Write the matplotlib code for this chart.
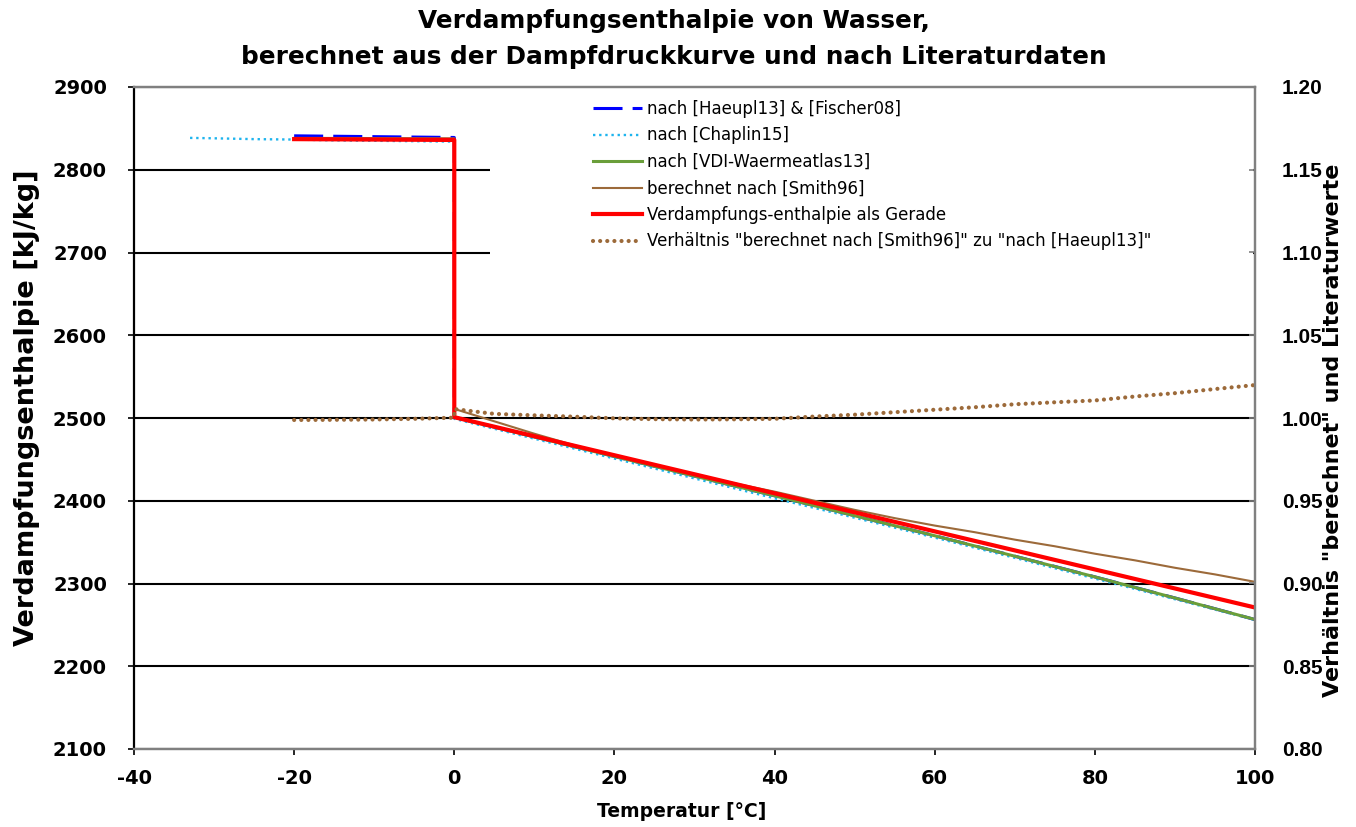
import matplotlib
matplotlib.use("Agg")
import matplotlib.pyplot as plt
from matplotlib.patches import Rectangle

plt.rcParams['font.family'] = ['DejaVu Sans']

# ---------------- data ----------------
# nach [Haeupl13] & [Fischer08]
T_haeupl = [-20, -15, -10, -5, 0, 0, 5, 10, 15, 20, 25, 30, 35, 40, 45, 50,
            55, 60, 65, 70, 75, 80, 85, 90, 95, 100]
H_haeupl = [2841, 2840.5, 2840, 2839.5, 2839, 2500.9, 2489.1, 2477.2, 2465.4,
            2453.5, 2441.7, 2429.8, 2417.9, 2406.0, 2394.0, 2381.9, 2369.8,
            2357.7, 2345.4, 2333.0, 2320.6, 2308.0, 2295.3, 2282.5, 2269.5, 2256.4]

# nach [Chaplin15]
T_chaplin = [-33, -30, -25, -20, -15, -10, -5, 0, 0, 10, 20, 30, 40, 50, 60,
             70, 80, 90, 100]
H_chaplin = [2838.5, 2838, 2837, 2836.5, 2835.5, 2835, 2834.5, 2834, 2499,
             2475, 2451, 2427, 2403, 2379.5, 2355.5, 2331, 2306, 2281, 2256]

# nach [VDI-Waermeatlas13]
T_vdi = [0, 10, 20, 30, 40, 50, 60, 70, 80, 90, 100]
H_vdi = [2500.9, 2477.2, 2453.5, 2429.8, 2406.0, 2381.9, 2357.7, 2333.0,
         2308.0, 2282.5, 2256.5]

# berechnet nach [Smith96]
T_smith = [-20, -10, 0, 0, 5, 10, 15, 20, 25, 30, 35, 40, 45, 50, 55, 60,
           65, 70, 75, 80, 85, 90, 95, 100]
H_smith = [2838.5, 2838.3, 2838, 2511, 2496, 2481, 2467, 2455, 2443, 2432,
           2421, 2411, 2400, 2389, 2379, 2370, 2362, 2353, 2345, 2336, 2328,
           2319, 2311, 2302]

# Verdampfungs-enthalpie als Gerade
T_gerade = [-20, 0, 0, 100]
H_gerade = [2837, 2836, 2501, 2271]

# Verhaeltnis "berechnet nach [Smith96]" zu "nach [Haeupl13]" (right axis)
T_ratio = [-20, -15, -10, -5, 0, 0, 5, 10, 15, 20, 25, 30, 35, 40, 45, 50,
           55, 60, 65, 70, 75, 80, 85, 90, 95, 100]
R_ratio = [0.9988, 0.9989, 0.9991, 0.9995, 1.0002, 1.0054, 1.0025, 1.0016,
           1.0008, 0.9998, 0.9993, 0.9991, 0.9992, 0.9995, 1.0009, 1.0020,
           1.0035, 1.0050, 1.0065, 1.0083, 1.0095, 1.0106, 1.0130, 1.0150,
           1.0175, 1.0199]

labels = ['nach [Haeupl13] & [Fischer08]',
          'nach [Chaplin15]',
          'nach [VDI-Waermeatlas13]',
          'berechnet nach [Smith96]',
          'Verdampfungs-enthalpie als Gerade',
          'Verhältnis "berechnet nach [Smith96]" zu "nach [Haeupl13]"']

x_ticks = [-40, -20, 0, 20, 40, 60, 80, 100]
y_ticks = [2100, 2200, 2300, 2400, 2500, 2600, 2700, 2800, 2900]
y2_ticks = [0.80, 0.85, 0.90, 0.95, 1.00, 1.05, 1.10, 1.15, 1.20]

# ---------------- figure ----------------
W, H = 1356, 827
fig = plt.figure(figsize=(W / 100, H / 100), dpi=100)
L, R, B, T = 134, 1255, 749, 87
ax = fig.add_axes([L / W, 1 - B / H, (R - L) / W, (B - T) / H])
ax2 = ax.twinx()

ax.set_xlim(-40, 100)
ax.set_ylim(2100, 2900)
ax2.set_ylim(0.80, 1.20)

# gridlines (black)
ax.set_axisbelow(True)
ax.set_yticks(y_ticks)
ax.set_xticks(x_ticks)
ax.yaxis.grid(True, color='black', linewidth=1.5)

# white legend background covering gridlines
ax.add_patch(Rectangle(((490 - L) / (R - L), (B - 266) / (B - T)),
                       (R - 2 - 490) / (R - L), (266 - T - 1) / (B - T),
                       transform=ax.transAxes, facecolor='white',
                       edgecolor='none', zorder=0.8))

l1, = ax.plot(T_haeupl, H_haeupl, color='#0000FF', lw=2.2, dashes=(9.5, 3.3), zorder=2)
l2, = ax.plot(T_chaplin, H_chaplin, color='#1EB4EE', lw=1.7, linestyle=(0, (1, 1.6)), zorder=2.1)
l3, = ax.plot(T_vdi, H_vdi, color='#6A9E3A', lw=2.2, zorder=2.2)
l4, = ax.plot(T_smith, H_smith, color='#9C6A3A', lw=1.5, zorder=2.3)
l5, = ax.plot(T_gerade, H_gerade, color='#FF0000', lw=3.0, zorder=2.4)
l6, = ax2.plot(T_ratio, R_ratio, color='#9C6A3A', lw=3.0, linestyle=(0, (0.01, 1.7)),
               dash_capstyle='round', zorder=2.5)
lines = [l1, l2, l3, l4, l5, l6]

# spines
for s in ['top', 'right', 'bottom']:
    ax.spines[s].set_color('#808080')
    ax.spines[s].set_linewidth(1.6)
    ax2.spines[s].set_color('#808080')
    ax2.spines[s].set_linewidth(1.6)
ax.spines['left'].set_color('black')
ax.spines['left'].set_linewidth(1.6)
ax2.spines['left'].set_visible(False)

tick_font = dict(fontsize=14, fontweight='bold')
ax.set_xticklabels([str(v) for v in x_ticks], **tick_font)
ax.set_yticklabels([str(v) for v in y_ticks], **tick_font)
ax2.set_yticks(y2_ticks)
ax2.set_yticklabels(['%.2f' % v for v in y2_ticks], fontsize=15, fontweight='bold',
                    family=['Liberation Sans', 'DejaVu Sans'])
ax.tick_params(axis='y', direction='out', length=4.5, width=1.2, color='black', pad=15)
ax.tick_params(axis='x', direction='out', length=4.5, width=1.2, color='black', pad=10)
ax2.tick_params(axis='y', direction='in', length=4, width=1.2, color='#808080', pad=19.5)

ax.set_xlabel('Temperatur [°C]', fontsize=13.5, fontweight='bold')
ax.xaxis.set_label_coords((682 - L) / (R - L), (B - 802) / (B - T))
ax.set_ylabel('Verdampfungsenthalpie [kJ/kg]', fontsize=19.5, fontweight='bold')
ax.yaxis.set_label_coords((40 - L) / (R - L), (B - 408) / (B - T))
ax2.set_ylabel('Verhältnis "berechnet" und Literaturwerte', fontsize=16,
               fontweight='bold')
ax2.yaxis.set_label_coords((1323 - L) / (R - L), (B - 430) / (B - T))

fig.text(674 / W, 1 - 9 / H,
         'Verdampfungsenthalpie von Wasser,\nberechnet aus der Dampfdruckkurve und nach Literaturdaten',
         fontsize=17.8, fontweight='bold', ha='center', va='top', linespacing=1.65)

leg = ax2.legend(lines, labels, loc='upper left',
                 bbox_to_anchor=((593 - L) / (R - L), (B - 100) / (B - T)),
                 frameon=False, fontsize=12, handlelength=2.93, handletextpad=0.3,
                 labelspacing=0.51, borderpad=0, borderaxespad=0)

fig.savefig('out.png', dpi=100)
